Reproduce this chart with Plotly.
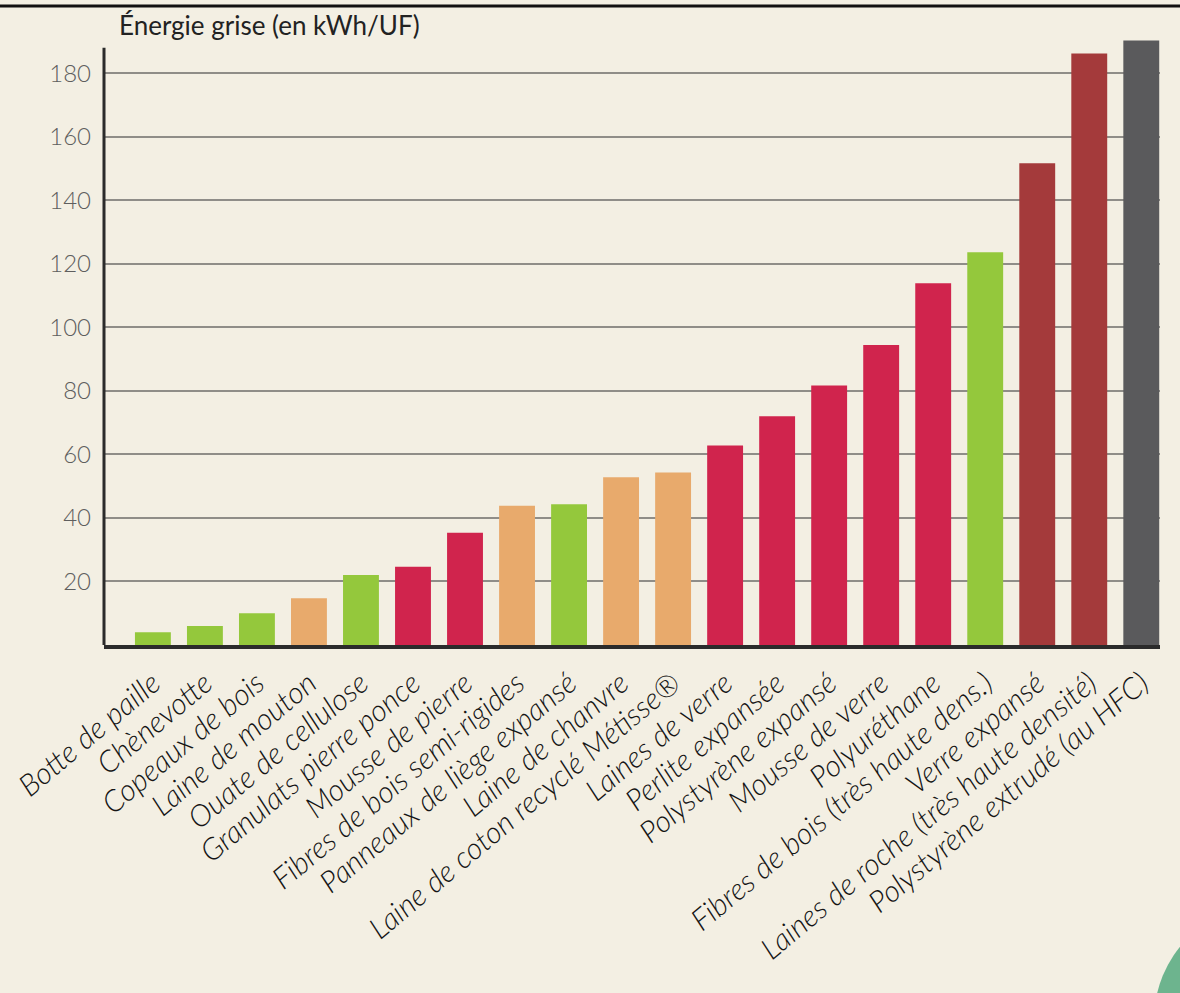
import plotly.graph_objects as go

categories = [
    "Botte de paille", "Chènevotte", "Copeaux de bois", "Laine de mouton",
    "Ouate de cellulose", "Granulats pierre ponce", "Mousse de pierre",
    "Fibres de bois semi-rigides", "Panneaux de liège expansé", "Laine de chanvre",
    "Laine de coton recyclé Métisse®", "Laines de verre", "Perlite expansée",
    "Polystyrène expansé", "Mousse de verre", "Polyuréthane",
    "Fibres de bois (très haute dens.)", "Verre expansé",
    "Laines de roche (très haute densité)", "Polystyrène extrudé (au HFC)",
]
values = [4, 6, 10, 14.7, 22, 24.6, 35.3, 43.8, 44.3, 52.8, 54.3, 62.8, 72,
          81.7, 94.4, 113.9, 123.6, 151.6, 186.2, 190.3]
groups = ["vert", "vert", "vert", "orange", "vert", "rouge", "rouge", "orange",
          "vert", "orange", "orange", "rouge", "rouge", "rouge", "rouge", "rouge",
          "vert", "brun", "brun", "gris"]
group_colors = {"vert": "#94c83c", "orange": "#e8aa6c", "rouge": "#d0244d",
                "brun": "#a43a3b", "gris": "#5a5a5c"}
y_ticks = [20, 40, 60, 80, 100, 120, 140, 160, 180]
y_title = "Énergie grise (en kWh/UF)"

W, H = 1180, 993
ml, mr, mt, mb = 104, 20, 35, 348
pw, ph = W - ml - mr, H - mt - mb

def px_x(p):
    return (p - ml) / pw

def px_y(p):
    return (H - mb - p) / ph

fig = go.Figure(go.Bar(
    x=categories, y=values,
    marker=dict(color=[group_colors[g] for g in groups], line=dict(width=0)),
    hoverinfo="x+y",
))

fig.update_layout(
    width=W, height=H,
    margin=dict(l=ml, r=mr, t=mt, b=mb, pad=0, autoexpand=False),
    paper_bgcolor="#f3efe3", plot_bgcolor="#f3efe3",
    bargap=0.31, showlegend=False,
    font=dict(family="Lato, 'Open Sans', sans-serif", color="#333333"),
)
fig.update_xaxes(
    range=[-0.94, 19.36], showgrid=False, showline=True, linewidth=4,
    linecolor="#2b2b2b", tickangle=-40, ticks="outside", ticklen=5,
    tickcolor="rgba(0,0,0,0)", automargin=False,
    tickfont=dict(size=30, color="#151515", family="Lato", style="italic",
                  weight=300),
)
fig.update_yaxes(
    range=[0, 192], tickvals=y_ticks, showgrid=True, gridcolor="#8f8d88",
    gridwidth=1.5, zeroline=False, showline=False, ticks="",
    ticklabelstandoff=12, automargin=False,
    tickfont=dict(size=24, color="#5e5e5e", family="Lato", weight=300),
)

shapes = [
    # y axis line
    dict(type="line", xref="paper", yref="y", x0=0, x1=0, y0=-0.8, y1=188,
         line=dict(color="#2b2b2b", width=3)),
    # top frame line
    dict(type="line", xref="paper", yref="paper", x0=px_x(0), x1=px_x(1180),
         y0=px_y(6), y1=px_y(6), line=dict(color="#111111", width=3)),
    # decorative circle bottom right
    dict(type="circle", xref="paper", yref="paper", x0=px_x(1154), x1=px_x(1386),
         y0=px_y(904), y1=px_y(1136), fillcolor="#6db48e", line=dict(width=0),
         layer="above"),
]
fig.update_layout(shapes=shapes)

fig.add_annotation(
    text=y_title, xref="paper", yref="paper", x=px_x(117), y=px_y(25),
    xanchor="left", yanchor="middle", showarrow=False,
    font=dict(size=26, color="#222222", family="Lato"),
)

fig.write_html("out.html")
